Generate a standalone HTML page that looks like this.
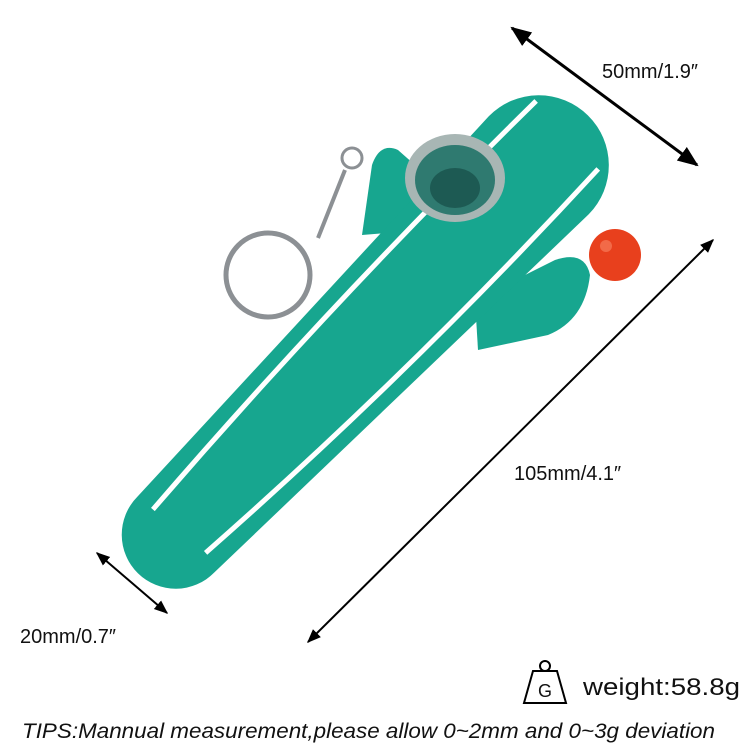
<!DOCTYPE html>
<html><head><meta charset="utf-8"><style>
html,body{margin:0;padding:0;background:#fff;}
svg{display:block;}
text{font-family:"Liberation Sans",sans-serif;fill:#111;}
</style></head><body>
<svg width="750" height="750" viewBox="0 0 750 750" xmlns="http://www.w3.org/2000/svg">
<defs>
<marker id="ah" viewBox="0 0 10 10" refX="9" refY="5" markerWidth="7" markerHeight="7" orient="auto-start-reverse">
<path d="M0,1 L10,5 L0,9 z" fill="#000"/></marker>
</defs>
<!-- keyring -->
<circle cx="268" cy="275" r="42" fill="none" stroke="#8c9094" stroke-width="5"/>
<circle cx="352" cy="158" r="10" fill="none" stroke="#8c9094" stroke-width="3"/>
<line x1="318" y1="238" x2="345" y2="170" stroke="#8c9094" stroke-width="4"/>
<!-- arms -->
<path d="M362,235 L372,165 Q380,142 398,150 L415,165 L425,230 Z" fill="#17a68f"/>
<path d="M475,300 L555,260 Q585,250 590,275 Q585,320 548,335 L478,350 Z" fill="#17a68f"/>
<!-- body -->
<g transform="translate(372,335) rotate(-45.5)">
<path d="M-280,-54 L238,-70 A70,70 0 0 1 238,70 L-280,54 A54,54 0 0 1 -280,-54 Z" fill="#17a68f"/>
<path d="M-278,-34 Q0,-52 282,-47" fill="none" stroke="#fff" stroke-width="5"/>
<path d="M-272,34 Q0,54 277,45" fill="none" stroke="#fff" stroke-width="5"/>
</g>
<!-- bowl -->
<ellipse cx="455" cy="178" rx="50" ry="44" fill="#a8b6b4"/>
<ellipse cx="455" cy="180" rx="40" ry="35" fill="#2f7a70"/>
<ellipse cx="455" cy="188" rx="25" ry="20" fill="#1d5a53"/>
<!-- red ball -->
<circle cx="615" cy="255" r="26" fill="#e8401d"/>
<circle cx="606" cy="246" r="6" fill="#f26a48"/>
<!-- arrows -->
<line x1="512" y1="28" x2="697" y2="165" stroke="#000" stroke-width="3" marker-start="url(#ah)" marker-end="url(#ah)"/>
<line x1="713" y1="240" x2="308" y2="642" stroke="#000" stroke-width="2" marker-start="url(#ah)" marker-end="url(#ah)"/>
<line x1="97" y1="553" x2="167" y2="613" stroke="#000" stroke-width="2" marker-start="url(#ah)" marker-end="url(#ah)"/>
<text x="602" y="78" font-size="20">50mm/1.9″</text>
<text x="514" y="480" font-size="20">105mm/4.1″</text>
<text x="20" y="643" font-size="20">20mm/0.7″</text>
<!-- weight icon -->
<circle cx="545" cy="666" r="5" fill="none" stroke="#000" stroke-width="2"/>
<path d="M533,671 L557,671 L566,703 L524,703 Z" fill="none" stroke="#000" stroke-width="2"/>
<text x="545" y="697" font-size="18" text-anchor="middle">G</text>
<text x="583" y="695" font-size="24.5" textLength="157" lengthAdjust="spacingAndGlyphs">weight:58.8g</text>
<text x="22" y="738" font-size="21.5" font-style="italic" textLength="693" lengthAdjust="spacingAndGlyphs">TIPS:Mannual measurement,please allow 0~2mm and 0~3g deviation</text>
</svg>
</body></html>
